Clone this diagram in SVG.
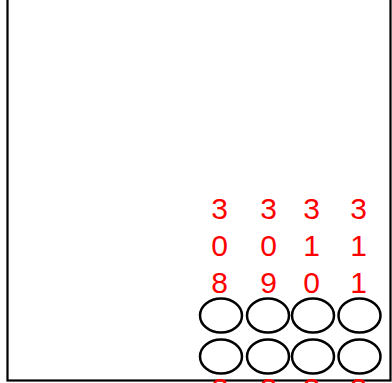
<svg xmlns="http://www.w3.org/2000/svg" width="392" height="383" viewBox="0 0 392 383">
<style>
.frame{fill:none;stroke:#000;stroke-width:2.2}
.slot{fill:none;stroke:#000;stroke-width:2.5}
.lbl{font-family:"Liberation Sans",Arial,sans-serif;font-size:30px;fill:#ff0000;text-anchor:middle}
</style>
<rect width="392" height="383" fill="#fff"/>
<g id="frame"><rect class="frame" x="7.5" y="-10" width="383" height="390.5"/></g>
<g id="labels">
<text class="lbl" x="219.5" y="219">3</text><text class="lbl" x="219.5" y="256">0</text><text class="lbl" x="219.5" y="293">8</text>
<text class="lbl" x="268.5" y="219">3</text><text class="lbl" x="268.5" y="256">0</text><text class="lbl" x="268.5" y="293">9</text>
<text class="lbl" x="311.5" y="219">3</text><text class="lbl" x="311.5" y="256">1</text><text class="lbl" x="311.5" y="293">0</text>
<text class="lbl" x="358.5" y="219">3</text><text class="lbl" x="358.5" y="256">1</text><text class="lbl" x="358.5" y="293">1</text>
<text class="lbl" x="220" y="399">3</text><text class="lbl" x="268.5" y="399">3</text><text class="lbl" x="311.5" y="399">3</text><text class="lbl" x="358.5" y="399">3</text>
</g>
<g id="slots">
<ellipse class="slot" cx="221" cy="315.5" rx="21" ry="17"/>
<ellipse class="slot" cx="268" cy="315.5" rx="21" ry="17"/>
<ellipse class="slot" cx="313" cy="315.5" rx="21" ry="17"/>
<ellipse class="slot" cx="359.5" cy="315.5" rx="21" ry="17"/>
<ellipse class="slot" cx="221" cy="356.5" rx="21" ry="17"/>
<ellipse class="slot" cx="268" cy="356.5" rx="21" ry="17"/>
<ellipse class="slot" cx="313" cy="356.5" rx="21" ry="17"/>
<ellipse class="slot" cx="359.5" cy="356.5" rx="21" ry="17"/>
</g>
</svg>
